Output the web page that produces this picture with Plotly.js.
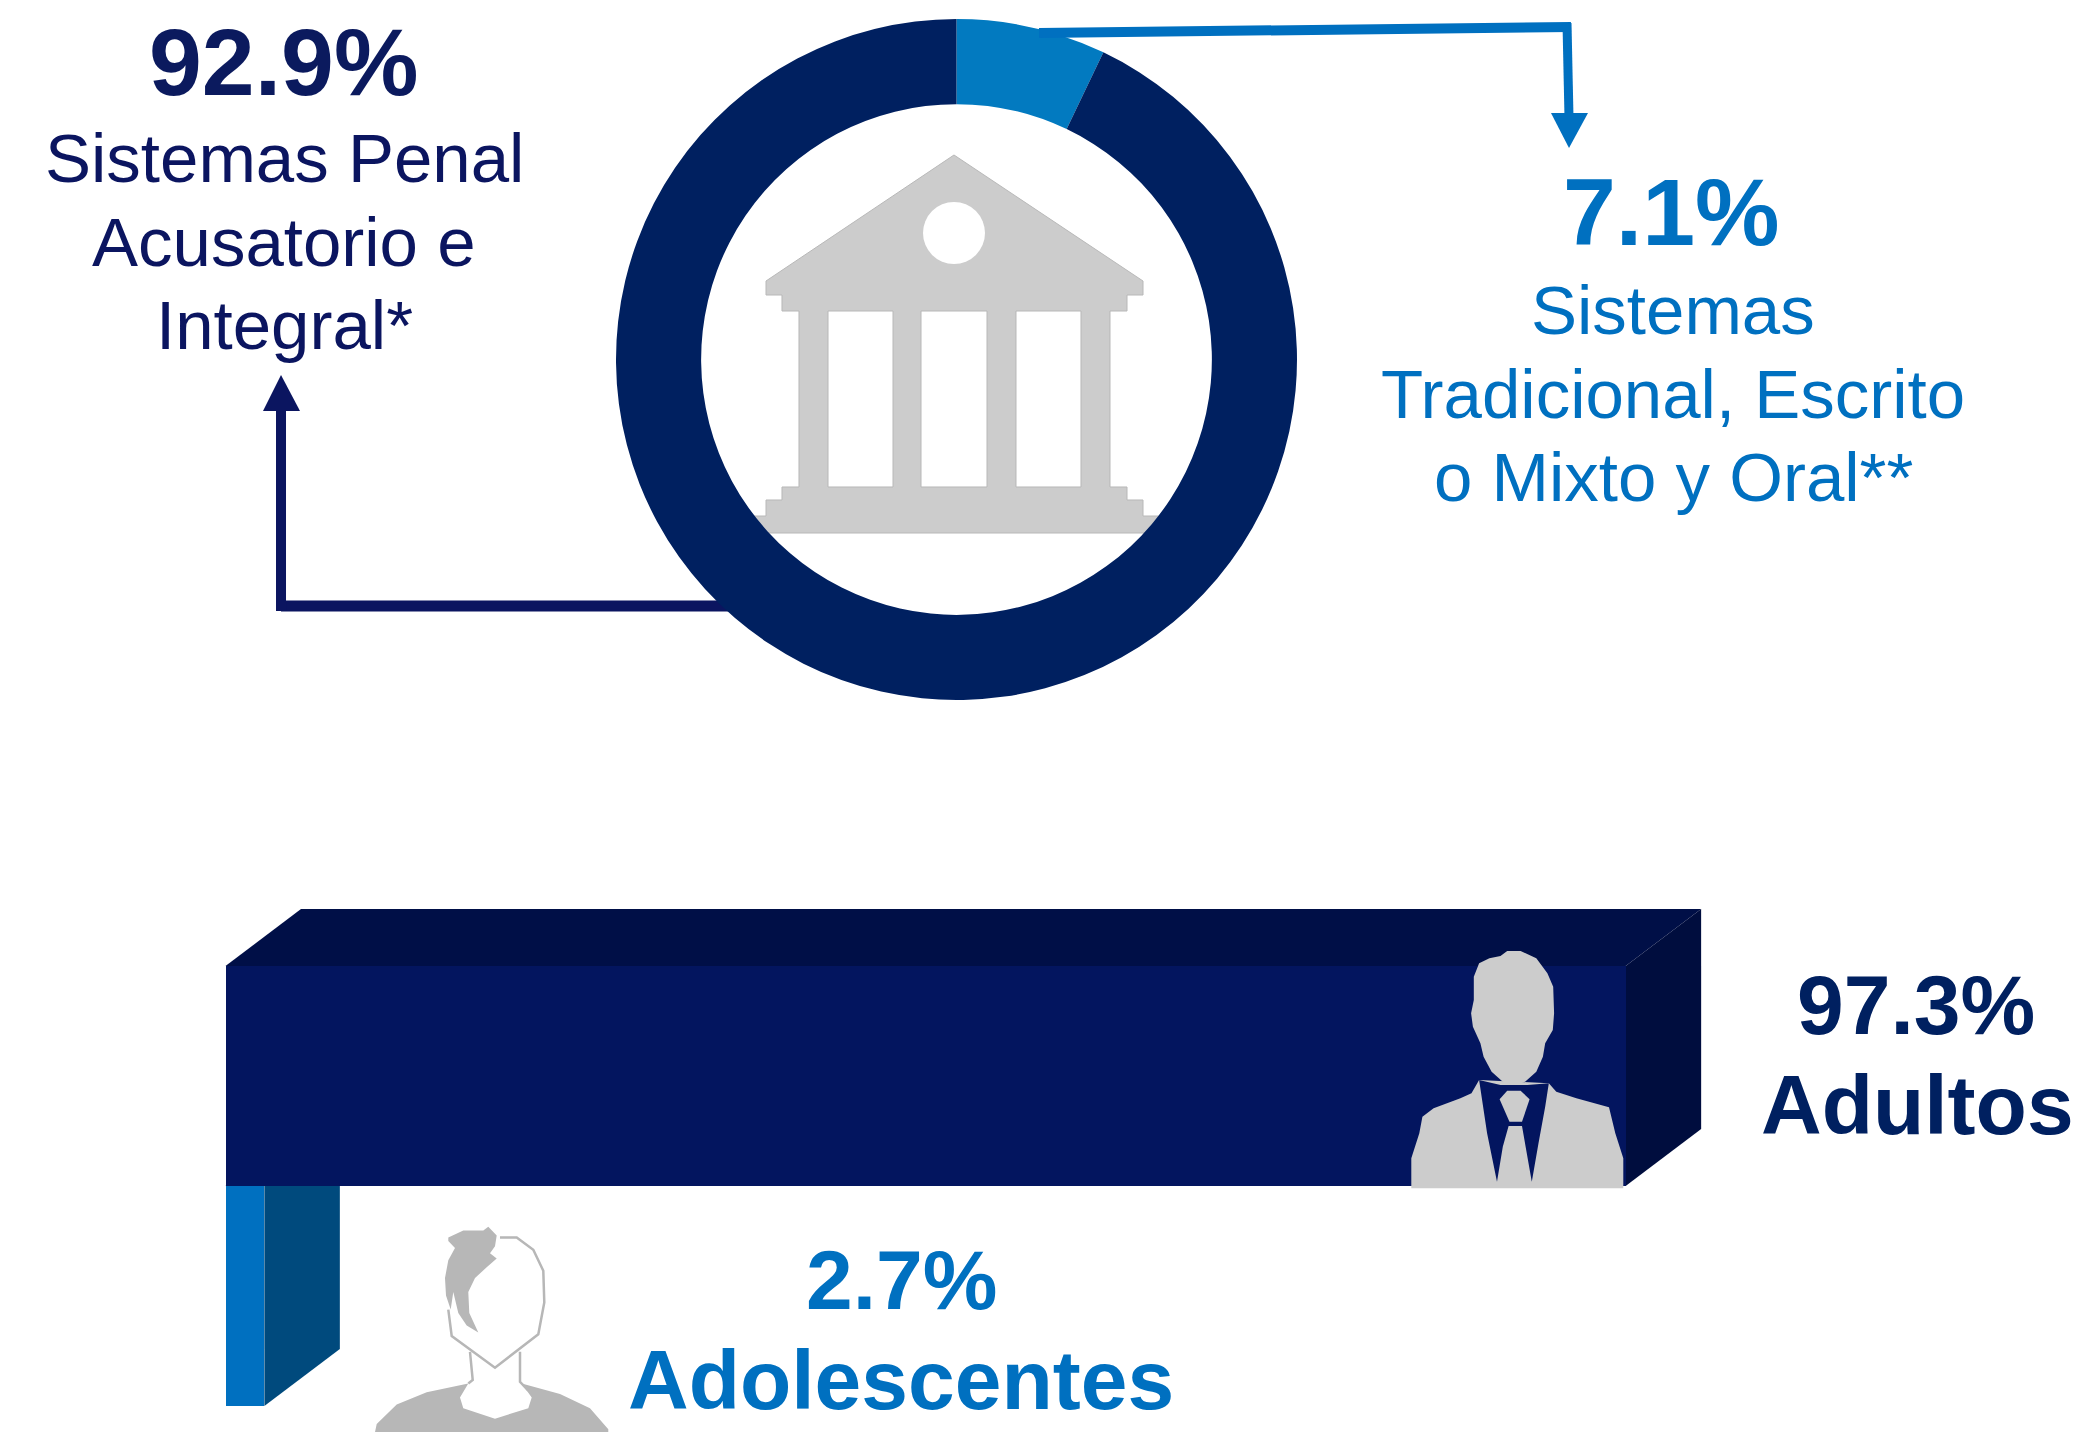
<!DOCTYPE html>
<html><head><meta charset="utf-8">
<script src="https://cdn.plot.ly/plotly-3.0.1.min.js"></script>
<style>html,body{margin:0;padding:0;background:#fff}#c{width:2080px;height:1432px}</style>
</head><body><div id="c"></div>
<script>
const systemLabels = ["Sistemas Tradicional, Escrito o Mixto y Oral**", "Sistemas Penal Acusatorio e Integral*"];
const systemValues = [7.1, 92.9];
const systemColors = ["#027AC0", "#002060"];
const groupLabels = ["Adultos", "Adolescentes"];
const groupValues = [97.3, 2.7];
const groupFront = ["#03155F", "#0070C0"];
const groupTop = ["#000F47", "#000F47"];
const groupSide = ["#000D3E", "#004A7D"];

const W = 2080, H = 1432;
// px string -> paper coordinates
function pp(s){
  let i = 0;
  return s.replace(/-?\d+(\.\d+)?/g, m => { const v = parseFloat(m); const o = (i % 2 === 0) ? v / W : 1 - v / H; i++; return o.toFixed(5); });
}
function poly(pts, fill, line, lw, layer, close){
  let d = "M" + pts.map(p => p[0] + " " + p[1]).join(" L") + (close === false ? "" : " Z");
  return {type:"path", xref:"paper", yref:"paper", path:pp(d), fillcolor:fill, line:{color:line||fill, width:lw===undefined?0:lw}, layer:layer||"above"};
}
const zx = (x)=>+(200 + x/3).toFixed(1), zy = (y)=>+(880 + y/2.84).toFixed(1);
const mx = (x)=>+(1380 + x/2.24).toFixed(1), my = (y)=>+(880 + y/3).toFixed(1);
const mapW = a => a.map(p=>[zx(p[0]),zy(p[1])]);
const mapM = a => a.map(p=>[mx(p[0]),my(p[1])]);

const shapes = [];
// Bar extrusions, built from the bar values through the axes
const depthX = 75.5/14.39, depthY = 57/220;
groupValues.forEach((v,i)=>{
  const t = i-0.5, b = i+0.5;
  shapes.push({type:"path", xref:"x", yref:"y", layer:"below", fillcolor:groupTop[i], line:{width:0},
    path:`M0 ${t} L${depthX} ${t-depthY} L${v+depthX} ${t-depthY} L${v} ${t} Z`});
  shapes.push({type:"path", xref:"x", yref:"y", layer:"below", fillcolor:groupSide[i], line:{width:0},
    path:`M${v} ${t} L${v+depthX} ${t-depthY} L${v+depthX} ${b-depthY} L${v} ${b} Z`});
});
// Building (below ring)
const G = "#CCCCCC", GL = "#B8B8B8";
shapes.push(poly([[954,155],[1143,281],[1143,295],[1127,295],[1127,311],[1110,311],[1110,487],[1127,487],[1127,500],[1143,500],[1143,516],[1165,516],[1165,533],[745,533],[745,516],[766,516],[766,500],[782,500],[782,487],[799,487],[799,311],[782,311],[782,295],[766,295],[766,281]],G,GL,1,"below"));
[[828,893],[921,987],[1016,1081]].forEach(r=>shapes.push(poly([[r[0],311],[r[1],311],[r[1],487],[r[0],487]],"#FFFFFF",GL,1,"below")));
shapes.push({type:"circle",xref:"paper",yref:"paper",x0:923/W,x1:985/W,y0:1-264/H,y1:1-202/H,fillcolor:"#FFFFFF",line:{width:0},layer:"below"});
// Connectors
const NV="#0B1560", BL="#0070C0";
shapes.push(poly([[281,606],[760,606]],"rgba(0,0,0,0)",NV,11,"below",false));
shapes.push(poly([[281,611],[281,405]],"rgba(0,0,0,0)",NV,10,"below",false));
shapes.push(poly([[281,375],[300,411],[263,411]],NV,NV,0,"below"));
shapes.push(poly([[1039,33],[1571,27]],"rgba(0,0,0,0)",BL,10,"above",false));
shapes.push(poly([[1567,23],[1569,118]],"rgba(0,0,0,0)",BL,9,"above",false));
shapes.push(poly([[1569,148],[1551,113],[1588,113]],BL,BL,0,"above"));
// Man
shapes.push(poly(mapM([[222,600],[205,640],[180,655],[120,685],[95,710],[88,760],[70,835],[70,925],[545,925],[545,835],[527,760],[513,682],[440,655],[395,635],[378,610]]),G));
shapes.push(poly(mapM([[222,600],[240,760],[262,905],[275,800],[288,738],[318,738],[340,905],[355,790],[370,680],[378,610],[330,615],[270,615]]),"#03155F"));
shapes.push(poly(mapM([[285,632],[315,632],[335,658],[318,725],[290,725],[268,658]]),G));
shapes.push(poly(mapM([[285,213],[315,213],[350,235],[375,280],[388,320],[390,400],[387,450],[370,490],[365,530],[350,575],[325,605],[300,615],[275,605],[250,575],[232,530],[225,490],[208,440],[204,400],[210,360],[210,290],[222,250],[245,235],[270,228]]),G));
// Teen
const T="#B7B7B7";
shapes.push(poly(mapW([[525,1568],[530,1545],[590,1490],[680,1455],[805,1430],[780,1470],[790,1500],[885,1530],[985,1500],[995,1470],[965,1430],[1080,1460],[1170,1500],[1225,1560],[1225,1568]]),T));
shapes.push(poly(mapW([[745,1015],[790,995],[850,995],[865,985],[890,1010],[885,1040],[870,1060],[890,1075],[860,1100],[825,1130],[805,1170],[808,1230],[835,1285],[800,1265],[775,1230],[760,1170],[752,1220],[738,1180],[735,1130],[745,1080],[765,1045],[745,1025]]),T));
shapes.push(poly(mapW([[900,1015],[950,1015],[1000,1050],[1030,1110],[1033,1200],[1015,1290],[885,1385],[755,1295],[745,1220]]),"rgba(0,0,0,0)",T,2.5,"above",false));
shapes.push(poly(mapW([[810,1340],[818,1420],[805,1430]]),"rgba(0,0,0,0)",T,2.5,"above",false));
shapes.push(poly(mapW([[960,1340],[960,1425],[985,1450]]),"rgba(0,0,0,0)",T,2.5,"above",false));

function txt(t,x,y,size,color,bold){
  return {text:bold?`<b>${t}</b>`:t, x:x/W, y:1-y/H, xref:"paper", yref:"paper", showarrow:false, xanchor:"center", yanchor:"middle",
    font:{family:"Liberation Sans, Arial, sans-serif", size:size, color:color}};
}
const annotations = [
  txt("92.9%",283,62,95,"#0B1A5E",true),
  txt("Sistemas Penal",284,159,69,NV),
  txt("Acusatorio e",284,243,69,NV),
  txt("Integral*",284,325,69,NV),
  txt("7.1%",1671,212,95,BL,true),
  txt("Sistemas",1673,310,69,BL),
  txt("Tradicional, Escrito",1673,394,69,BL),
  txt("o Mixto y Oral**",1673,477,69,BL),
  txt("97.3%",1916,1005,84,"#002060",true),
  txt("Adultos",1917,1105,84,"#002060",true),
  txt("2.7%",901,1280,84,BL,true),
  txt("Adolescentes",901,1380,84,BL,true)
];

const data = [
  {type:"bar", orientation:"h", y:groupLabels, x:groupValues, width:1, marker:{color:groupFront, line:{width:0}}, hoverinfo:"none", showlegend:false},
  {type:"pie", labels:systemLabels, values:systemValues, sort:false, direction:"clockwise", rotation:0, hole:0.75,
   marker:{colors:systemColors, line:{width:0}}, textinfo:"none", hoverinfo:"none", showlegend:false,
   domain:{x:[616/W,1297/W], y:[1-700/H,1-19/H]}}
];
const layout = {
  width:W, height:H, margin:{l:0,r:0,t:0,b:0}, paper_bgcolor:"#FFFFFF", plot_bgcolor:"rgba(0,0,0,0)", showlegend:false, bargap:0,
  xaxis:{range:[-225.5/14.39,(W-225.5)/14.39], visible:false, fixedrange:true},
  yaxis:{type:"category", categoryorder:"array", categoryarray:groupLabels, range:[(H-1076)/220,-1076/220], visible:false, fixedrange:true},
  shapes, annotations
};
Plotly.newPlot("c", data, layout, {displayModeBar:false, staticPlot:true});
</script></body></html>
